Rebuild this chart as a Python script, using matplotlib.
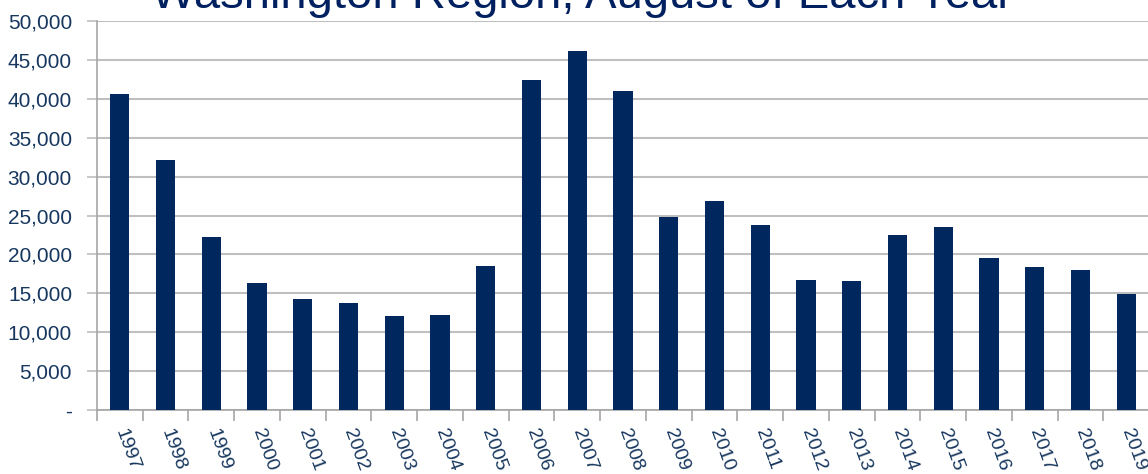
import numpy as np
import matplotlib.pyplot as plt
from matplotlib.ticker import FuncFormatter, MultipleLocator

# Данные: значения за август каждого года
years = [str(y) for y in range(1997, 2020)]
values = [40650, 32100, 22280, 16320, 14270, 13750, 12080, 12210, 18510,
          42460, 46110, 41000, 24810, 26900, 23780, 16710, 16540, 22490,
          23570, 19500, 18340, 17950, 14950]

title = "Washington Region, August of Each Year"

BAR_COLOR = "#00285E"
TEXT_COLOR = "#17375E"
GRID_COLOR = "#BFBFBF"

plt.rcParams["font.family"] = ["Liberation Sans", "DejaVu Sans"]

fig = plt.figure(figsize=(11.48, 4.74), dpi=100)
ax = fig.add_axes([97 / 1148, 64 / 474, 1052 / 1148, 389 / 474])

x = np.arange(len(years))
ax.bar(x, values, width=0.42, color=BAR_COLOR, zorder=3)

ax.set_xlim(-0.5, len(years) - 0.5)
ax.set_ylim(0, 50000)

# Ось Y
ax.yaxis.set_major_locator(MultipleLocator(5000))
ax.yaxis.set_major_formatter(
    FuncFormatter(lambda v, p: "-" if v == 0 else f"{int(v):,}"))
ax.grid(axis="y", color=GRID_COLOR, linewidth=1.5, zorder=0)
ax.tick_params(axis="y", length=7, width=1.2, color=GRID_COLOR,
               labelsize=15, labelcolor=TEXT_COLOR, pad=11)

# Ось X: риски на границах категорий, подписи по центрам
ax.set_xticks(x)
ax.set_xticklabels(years, rotation=-70, rotation_mode="anchor",
                   ha="left", va="center")
ax.set_xticks(np.arange(-0.5, len(years)), minor=True)
ax.tick_params(axis="x", which="major", length=0, labelsize=14,
               labelcolor=TEXT_COLOR, pad=14)
ax.tick_params(axis="x", which="minor", length=8, width=1.2,
               color="#A6A6A6")

for side in ["top", "right"]:
    ax.spines[side].set_visible(False)
for side in ["left", "bottom"]:
    ax.spines[side].set_color("#A6A6A6")
    ax.spines[side].set_linewidth(1.2)

fig.text(0.507, 1 - 8 / 474, title, ha="center", va="baseline",
         fontsize=34, color="#002060")

plt.savefig("out.png", dpi=100)
